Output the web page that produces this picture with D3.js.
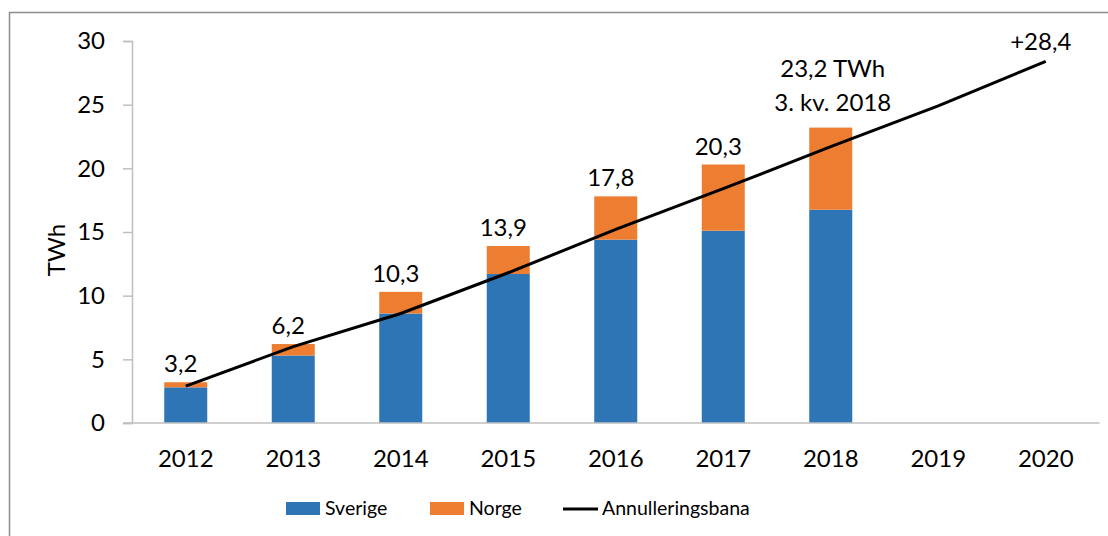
<!DOCTYPE html>
<html>
<head>
<meta charset="utf-8">
<script src="https://cdn.jsdelivr.net/npm/d3@7"></script>
<style>
  body { margin: 0; background: #fff; }
  svg { display: block; font-family: Lato, 'Open Sans', sans-serif; }
  .axis .domain, .axis line { stroke: #bfbfbf; stroke-width: 1.5; }
</style>
</head>
<body>
<svg id="chart" width="1108" height="536"></svg>
<script>
// data
const years = ['2012', '2013', '2014', '2015', '2016', '2017', '2018', '2019', '2020']
const sverige = [2.8, 5.3, 8.6, 11.7, 14.4, 15.1, 16.75]
const norge = [0.4, 0.9, 1.7, 2.2, 3.4, 5.2, 6.45]
const totals = ['3,2', '6,2', '10,3', '13,9', '17,8', '20,3', '23,2 TWh']
const bana = [2.9, 6.0, 8.6, 11.8, 15.2, 18.4, 21.7, 24.9, 28.4]
const yTicks = [0, 5, 10, 15, 20, 25, 30]

const colors = { sverige: '#2e75b6', norge: '#ed7d31', bana: '#000' }
const fontSize = 24

const svg = d3.select('#chart')
const margin = { left: 132, right: 8.5, top: 41, bottom: 113 }
const W = 1108, H = 536

// chart frame (only top and left edges are in view)
svg.append('rect')
  .attr('x', 9.5).attr('y', 12.5)
  .attr('width', 1200).attr('height', 600)
  .attr('fill', 'none').attr('stroke', '#8c8c8c').attr('stroke-width', 1.5)

const x = d3.scaleBand()
  .domain(years)
  .range([margin.left, W - margin.right])
  .paddingInner(0.6)
  .paddingOuter(0.3)

const y = d3.scaleLinear().domain([0, 30]).range([H - margin.bottom, margin.top])

// y axis
const yAxis = svg.append('g').attr('class', 'axis')
  .attr('transform', `translate(${margin.left},0)`)
  .call(d3.axisLeft(y).tickValues(yTicks).tickSize(9).tickPadding(18))
yAxis.selectAll('text').attr('font-size', fontSize).attr('fill', '#000')
  .attr('font-family', 'Lato, sans-serif')

// stacked bars
const stackData = sverige.map((s, i) => ({ year: years[i], sverige: s, norge: norge[i] }))
const series = d3.stack().keys(['sverige', 'norge'])(stackData)
svg.append('g').selectAll('g')
  .data(series).join('g')
  .attr('fill', d => colors[d.key])
  .selectAll('rect')
  .data(d => d).join('rect')
  .attr('x', d => x(d.data.year))
  .attr('width', x.bandwidth())
  .attr('y', d => y(d[1]))
  .attr('height', d => y(d[0]) - y(d[1]))

// x axis
const xAxis = svg.append('g').attr('class', 'axis')
  .attr('transform', `translate(0,${y(0)})`)
  .call(d3.axisBottom(x).tickSize(0).tickPadding(27).tickSizeOuter(0))
xAxis.select('.domain').attr('d', `M${margin.left - 9},0H${W - margin.right}`)
xAxis.selectAll('text').attr('font-size', fontSize).attr('fill', '#000')
  .attr('font-family', 'Lato, sans-serif')

// annulleringsbana
const line = d3.line()
  .x((d, i) => x(years[i]) + x.bandwidth() / 2)
  .y(d => y(d))
svg.append('path')
  .datum(bana)
  .attr('d', line)
  .attr('fill', 'none')
  .attr('stroke', colors.bana)
  .attr('stroke-width', 3)

// total labels
svg.append('g').selectAll('text')
  .data(totals).join('text')
  .attr('x', (d, i) => x(years[i]) + x.bandwidth() / 2 - (i === 6 ? -2 : 5))
  .attr('y', (d, i) => y(sverige[i] + norge[i]) - (i === 6 ? 51 : 10))
  .attr('text-anchor', 'middle')
  .attr('font-size', fontSize)
  .text(d => d)
svg.append('text')
  .attr('x', x('2018') + x.bandwidth() / 2 + 2)
  .attr('y', y(sverige[6] + norge[6]) - 17)
  .attr('text-anchor', 'middle')
  .attr('font-size', fontSize)
  .text('3. kv. 2018')
svg.append('text')
  .attr('x', x('2020') + x.bandwidth() / 2 - 5)
  .attr('y', y(bana[8]) - 11)
  .attr('text-anchor', 'middle')
  .attr('font-size', fontSize)
  .text('+' + String(bana[8]).replace('.', ','))

// y axis title
svg.append('text')
  .attr('transform', 'translate(65,250) rotate(-90)')
  .attr('text-anchor', 'middle')
  .attr('font-size', fontSize)
  .text('TWh')

// legend
const legend = svg.append('g').attr('font-size', 19.5)
const items = [
  { label: 'Sverige', color: colors.sverige, x: 286, type: 'rect' },
  { label: 'Norge', color: colors.norge, x: 430, type: 'rect' },
  { label: 'Annulleringsbana', color: colors.bana, x: 563, type: 'line' },
]
items.forEach(it => {
  if (it.type === 'rect') {
    legend.append('rect').attr('x', it.x).attr('y', 502)
      .attr('width', 34).attr('height', 13).attr('fill', it.color)
  } else {
    legend.append('line').attr('x1', it.x).attr('x2', it.x + 35)
      .attr('y1', 509).attr('y2', 509)
      .attr('stroke', it.color).attr('stroke-width', 3)
  }
  legend.append('text').attr('x', it.x + 39).attr('y', 515).text(it.label)
})
</script>
</body>
</html>
